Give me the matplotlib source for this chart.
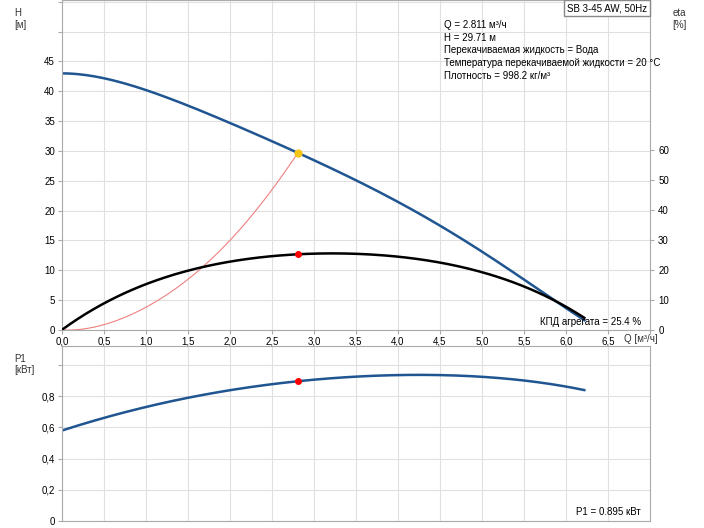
import matplotlib
matplotlib.use("Agg")
import matplotlib.pyplot as plt
import numpy as np

plt.rcParams['font.family'] = ['Liberation Sans', 'DejaVu Sans']

q_h = [0, 0.5, 1.0, 1.5, 2.0, 2.5, 2.811, 3.0, 3.5, 4.0, 4.5, 5.0, 5.5, 6.0, 6.22]
h = [43, 42.2, 40.2, 37.6, 34.7, 31.6, 29.71, 28.5, 25.1, 21.4, 17.5, 13.2, 8.5, 3.6, 1.7]
q_eta = [0, 0.5, 1.0, 1.5, 2.0, 2.5, 2.811, 3.2, 3.5, 4.0, 4.5, 5.0, 5.5, 6.0, 6.22]
eta = [0, 9, 15.3, 19.6, 22.6, 24.6, 25.4, 25.6, 25.4, 24.3, 22.3, 19.3, 14.6, 7.8, 4]
q_sys = [0, 0.5, 1.0, 1.5, 2.0, 2.5, 2.811]
h_sys = [0, 0.9, 3.8, 8.5, 15.0, 23.5, 29.71]
q_p = [0, 0.5, 1.0, 1.5, 2.0, 2.5, 2.811, 3.5, 4.0, 4.5, 5.0, 5.5, 6.0, 6.22]
p1 = [0.58, 0.66, 0.73, 0.79, 0.84, 0.875, 0.895, 0.925, 0.935, 0.935, 0.925, 0.9, 0.86, 0.84]
q_op, h_op, eta_op, p_op = 2.811, 29.71, 25.4, 0.895

def smooth(x, y):
    xs = np.linspace(x[0], x[-1], 200)
    c = np.polyfit(x, y, min(5, len(x) - 1))
    return xs, np.polyval(c, xs)

blue = "#1f5591"
fig = plt.figure(figsize=(7.04, 5.28), dpi=100)
fs = 7
qt = np.arange(0, 7.01, 0.5)
ax = fig.add_axes([0.088, 0.375, 0.835, 0.625])
ax.set_xlim(0, 7.0); ax.set_ylim(0, 55.3)
ax.set_xticks(qt)
ax.set_xticklabels([f"{v:.1f}".replace(".", ",") if v < 6.6 else "" for v in qt], fontsize=fs)
ax.set_yticks(np.arange(0, 56, 5))
ax.set_yticklabels([str(v) if v <= 45 else "" for v in range(0, 56, 5)], fontsize=fs)
ax.grid(color="#e0e0e0", lw=0.8)
ax.tick_params(length=3, pad=2, color="#aaaaaa")
for s in ax.spines.values(): s.set_color("#aaaaaa")
ax2 = ax.twinx()
ax2.set_ylim(0, 55.3 * 5.96 / 3.0)
ax2.set_yticks(np.arange(0, 61, 10))
ax2.set_yticklabels([str(v) for v in range(0, 61, 10)], fontsize=fs)
ax2.tick_params(length=3, pad=3, color="#aaaaaa")
for s in ax2.spines.values(): s.set_visible(False)

xs, ys = smooth(q_sys, h_sys); ax.plot(xs, ys, color="#f08080", lw=0.8)
xs, ys = smooth(q_h, h); ax.plot(xs, ys, color=blue, lw=1.8)
xs, ys = smooth(q_eta, eta); ax2.plot(xs, ys, color="black", lw=1.8)
ax.plot([q_op], [h_op], "o", color="#f5c518", ms=5, zorder=5)
ax2.plot([q_op], [eta_op], "o", color="red", ms=4, zorder=5)

fig.text(0.02, 0.985, "H\n[м]", fontsize=fs, va="top", color="#333")
fig.text(0.955, 0.985, "eta\n[%]", fontsize=fs, va="top", color="#333")
fig.text(0.91, 0.367, "Q [м³/ч]", fontsize=fs, va="top", ha="center", color="#333")
ax.text(0.65, 0.94, "Q = 2.811 м³/ч\nH = 29.71 м\nПерекачиваемая жидкость = Вода\nТемпература перекачиваемой жидкости = 20 °C\nПлотность = 998.2 кг/м³",
        transform=ax.transAxes, fontsize=fs, va="top", linespacing=1.35)
ax.text(0.995, 0.99, "SB 3-45 AW, 50Hz", transform=ax.transAxes, fontsize=fs, va="top", ha="right",
        bbox=dict(boxstyle="square,pad=0.3", fc="white", ec="#888"))
ax.text(0.985, 0.01, "КПД агрегата = 25.4 %", transform=ax.transAxes, fontsize=fs, ha="right", va="bottom")

bx = fig.add_axes([0.088, 0.0133, 0.835, 0.331])
bx.set_xlim(0, 7.0); bx.set_ylim(0, 1.12)
bx.set_xticks(qt); bx.set_xticklabels([])
pt = np.arange(0, 1.01, 0.2)
bx.set_yticks(pt)
bx.set_yticklabels(["0", "0,2", "0,4", "0,6", "0,8", ""], fontsize=fs)
bx.grid(color="#e0e0e0", lw=0.8)
bx.tick_params(length=3, pad=2, color="#aaaaaa")
bx.tick_params(axis="x", length=0)
for s in bx.spines.values(): s.set_color("#aaaaaa")
xs, ys = smooth(q_p, p1); bx.plot(xs, ys, color=blue, lw=1.8)
bx.plot([q_op], [p_op], "o", color="red", ms=4, zorder=5)
fig.text(0.02, 0.33, "P1\n[кВт]", fontsize=fs, va="top", color="#333")
bx.text(0.985, 0.02, "P1 = 0.895 кВт", transform=bx.transAxes, fontsize=fs, ha="right", va="bottom")
fig.savefig("out.png", dpi=100)
